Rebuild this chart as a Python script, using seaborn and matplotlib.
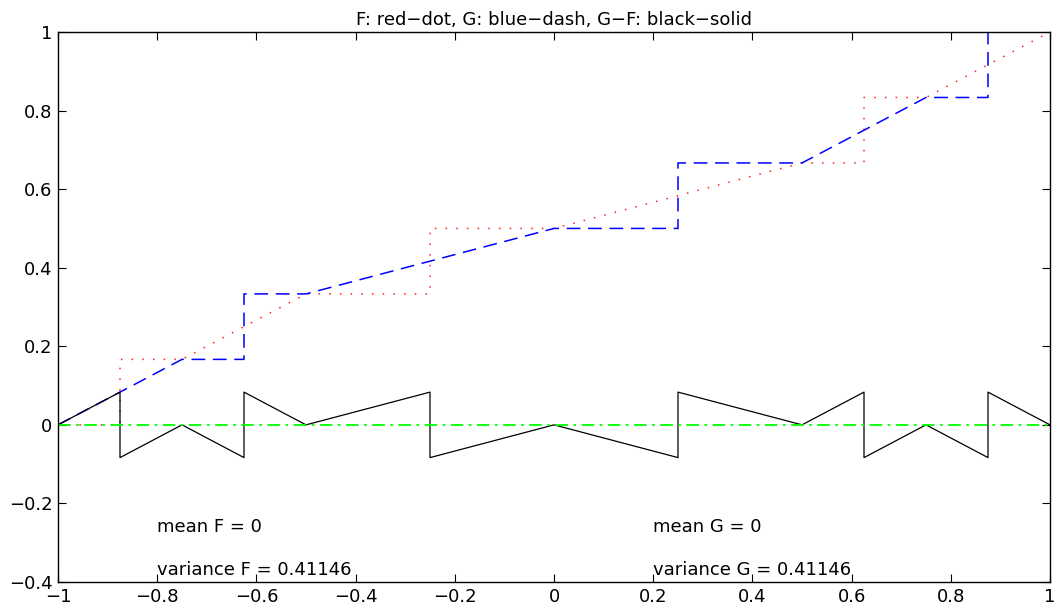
import numpy as np
import pandas as pd
import matplotlib
matplotlib.use('Agg')
import matplotlib.pyplot as plt
import seaborn as sns

# F (red dotted)
f_x = [-1, -0.875, -0.875, -0.75, -0.5, -0.25, -0.25, 0, 0.5, 0.625, 0.625, 0.75, 1]
f_y = [0, 0, 1/6, 1/6, 1/3, 1/3, 1/2, 1/2, 2/3, 2/3, 5/6, 5/6, 1]
# G (blue dashed)
g_x = [-1, -0.75, -0.625, -0.625, -0.5, 0, 0.25, 0.25, 0.5, 0.75, 0.875, 0.875, 1]
g_y = [0, 1/6, 1/6, 1/3, 1/3, 1/2, 1/2, 2/3, 2/3, 5/6, 5/6, 1, 1]
# G-F (black solid)
d_x = [-1, -0.875, -0.875, -0.75, -0.625, -0.625, -0.5, -0.25, -0.25, 0,
       0.25, 0.25, 0.5, 0.625, 0.625, 0.75, 0.875, 0.875, 1]
d_y = [0, 1/12, -1/12, 0, -1/12, 1/12, 0, 1/12, -1/12, 0,
       -1/12, 1/12, 0, 1/12, -1/12, 0, -1/12, 1/12, 0]
zero_x = [-1, 1]
zero_y = [0, 0]

sns.set_style('white')
plt.rcParams['font.family'] = ['DejaVu Sans']
plt.rcParams['text.color'] = 'black'
plt.rcParams['xtick.color'] = 'black'
plt.rcParams['ytick.color'] = 'black'
fs = 13

fig = plt.figure(figsize=(10.57, 6.08), dpi=100)
ax = fig.add_axes([58/1057, 26/608, 992/1057, 550/608])

sns.lineplot(x=f_x, y=f_y, sort=False, estimator=None, ax=ax,
             color='#ff2020', linestyle=(0, (1, 6)), linewidth=1.1)
sns.lineplot(x=g_x, y=g_y, sort=False, estimator=None, ax=ax,
             color='#0000ff', linestyle=(0, (9, 5)), linewidth=1.1)
sns.lineplot(x=d_x, y=d_y, sort=False, estimator=None, ax=ax,
             color='black', linewidth=0.9)
sns.lineplot(x=zero_x, y=zero_y, sort=False, estimator=None, ax=ax,
             color='#00ff00', linestyle=(0, (7, 3, 1.5, 3)), linewidth=1.3)

ax.text(-0.8, -0.26, 'mean F = 0', fontsize=fs, va='center')
ax.text(-0.8, -0.37, 'variance F = 0.41146', fontsize=fs, va='center')
ax.text(0.2, -0.26, 'mean G = 0', fontsize=fs, va='center')
ax.text(0.2, -0.37, 'variance G = 0.41146', fontsize=fs, va='center')

ax.set_xlim(-1, 1)
ax.set_ylim(-0.4, 1)
xt = [-1, -0.8, -0.6, -0.4, -0.2, 0, 0.2, 0.4, 0.6, 0.8, 1]
yt = [-0.4, -0.2, 0, 0.2, 0.4, 0.6, 0.8, 1]
ax.set_xticks(xt)
ax.set_yticks(yt)
ax.set_xticklabels([f'{v:g}'.replace('-', '\u2212') for v in xt])
ax.set_yticklabels([f'{v:g}'.replace('-', '\u2212') for v in yt])
ax.tick_params(direction='in', length=6, width=0.8, labelsize=fs,
               top=True, right=True, bottom=True, left=True, pad=4)
for s in ax.spines.values():
    s.set_visible(True)
    s.set_color('black')
    s.set_linewidth(1.0)
ax.set_title('F: red\u2212dot, G: blue\u2212dash, G\u2212F: black\u2212solid',
             fontsize=fs, pad=5, color='black')

fig.savefig('out.png', dpi=100)
